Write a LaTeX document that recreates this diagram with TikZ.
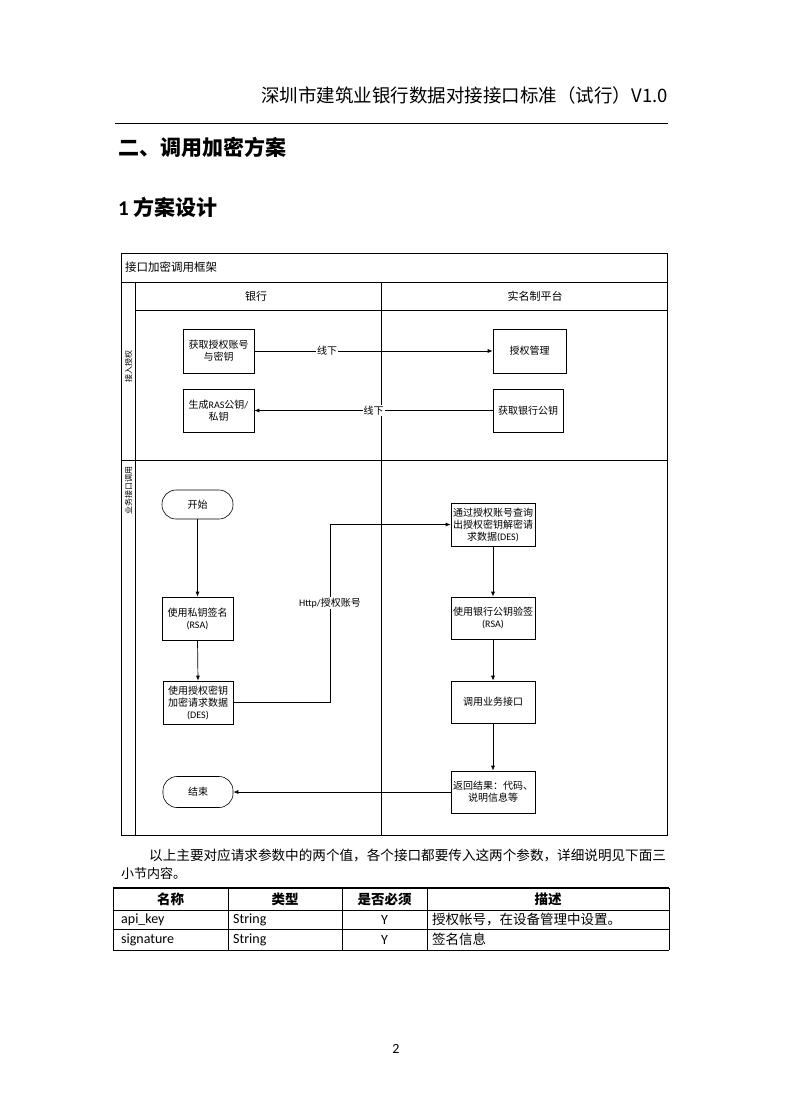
\documentclass[tikz,border=0pt]{standalone}
\usepackage{fontspec}
\setmainfont{Noto Sans CJK SC}
\newfontfamily\lat{Carlito}
\usetikzlibrary{arrows.meta}
\begin{document}
\begin{tikzpicture}[x=1pt,y=-1pt,
  fs/.style={font=\fontsize{#1pt}{\dimexpr #1pt*12/10\relax}\selectfont},
  box/.style={draw=black, line width=0.6pt, align=center, inner sep=0pt, fs=10},
  term/.style={box, rounded corners=14pt},
  arr/.style={-{Latex[length=5pt,width=4pt]}, line width=0.7pt},
  lbl/.style={fill=white, inner sep=1pt, fs=10},
  frame/.style={draw=black, line width=0.7pt},
  tline/.style={draw=black, line width=0.7pt},
  txt/.style={inner sep=0pt}
]
\useasboundingbox[fill=white] (0,0) rectangle (790,1119);

% page header
\node[txt, anchor=east, fs=18.5] (hdr) at (668,95) {深圳市建筑业银行数据对接接口标准（试行）V1.0};
\draw[line width=1.1pt] (115,123.5) -- (668,123.5);
\node[txt, anchor=west, fs=21] (h1) at (118,147) {\bfseries 二、调用加密方案};
\node[txt, anchor=west, fs=21] (h2) at (118,207) {\bfseries {\lat 1} 方案设计};

% frame
\draw[frame] (121.5,253) rectangle (667,835);
\draw[frame] (121.5,282) -- (667,282);
\draw[frame] (135.5,282) -- (135.5,835);
\draw[frame] (135.5,310) -- (667,310);
\draw[frame] (121.5,460) -- (667,460);
\draw[frame] (381,282) -- (381,835);
\node[txt, anchor=west, fs=11.5] (ttl) at (125,267.5) {接口加密调用框架};
\node[txt, fs=11] (bank) at (256,296) {银行};
\node[txt, fs=11] (plat) at (535,296) {实名制平台};
\node[txt, fs=8, rotate=90] (lane1) at (128.5,366) {接入授权};
\node[txt, fs=8, rotate=90] (lane2) at (128.5,490) {业务接口调用};

% lane 1
\node[box, minimum width=71, minimum height=44] (b1) at (218.5,351) {获取授权账号\\与密钥};
\node[box, minimum width=73, minimum height=44] (b2) at (529.5,351) {授权管理};
\node[box, minimum width=71, minimum height=43] (b3) at (218.5,410.5) {生成{\lat RAS}公钥{\lat /}\\私钥};
\node[box, minimum width=70, minimum height=43] (b4) at (528,410.5) {获取银行公钥};
\draw[arr] (b1.east) -- node[lbl, pos=0.305] {线下} (b2.west);
\draw[arr] (b4.west) -- node[lbl, pos=0.5] {线下} (b3.east);

% lane 2 left
\node[term, minimum width=71, minimum height=29] (start) at (197.5,504.5) {开始};
\node[box, minimum width=71, minimum height=43] (s1) at (197.5,618.5) {使用私钥签名\\{\lat (RSA)}};
\node[box, minimum width=70, minimum height=43] (s2) at (198,702.5) {使用授权密钥\\加密请求数据\\{\lat (DES)}};
\node[term, minimum width=70, minimum height=31] (stop) at (198,792) {结束};

% lane 2 right
\node[box, minimum width=84, minimum height=43] (r1) at (493,524.5) {通过授权账号查询\\出授权密钥解密请\\求数据{\lat (DES)}};
\node[box, minimum width=84, minimum height=42] (r2) at (493,618) {使用银行公钥验签\\{\lat (RSA)}};
\node[box, minimum width=84, minimum height=42] (r3) at (493,702) {调用业务接口};
\node[box, minimum width=84, minimum height=42] (r4) at (493,792) {返回结果：代码、\\说明信息等};

\coordinate (hx) at (330,0);
\draw[arr] (start.south) -- (s1.north);
\draw[arr] (s1.south) -- (s2.north);
\draw[arr] (s2.east) -- (s2.east -| hx) -- node[lbl, pos=0.56] {{\lat Http/}授权账号} (r1.west -| hx) -- (r1.west);
\draw[arr] (r1.south) -- (r2.north);
\draw[arr] (r2.south) -- (r3.north);
\draw[arr] (r3.south) -- (r4.north);
\draw[arr] (r4.west) -- (stop.east);

% paragraph
\node[txt, anchor=west, fs=13.6] (p1) at (149,855) {以上主要对应请求参数中的两个值，各个接口都要传入这两个参数，详细说明见下面三};
\node[txt, anchor=west, fs=13] (p2) at (121,873.5) {小节内容。};

% table
\draw[tline, line width=1.2pt] (113,888) -- (669,888);
\draw[tline] (113,910) -- (669,910);
\draw[tline] (113,929) -- (669,929);
\draw[tline, line width=1pt] (113,950) -- (669,950);
\foreach \cx in {113,228,342,427,669} \draw[tline] (\cx,888) -- (\cx,950);
\node[txt, fs=13.5] (th1) at (170.5,899) {\bfseries 名称};
\node[txt, fs=13.5] (th2) at (285,899) {\bfseries 类型};
\node[txt, fs=13.5] (th3) at (384.5,899) {\bfseries 是否必须};
\node[txt, fs=13.5] (th4) at (548,899) {\bfseries 描述};
\node[txt, anchor=west, fs=14] (c11) at (121,919.5) {\lat api\_key};
\node[txt, anchor=west, fs=14] (c12) at (233,919.5) {\lat String};
\node[txt, fs=14] (c13) at (384.5,919.5) {\lat Y};
\node[txt, anchor=west, fs=13.5] (c14) at (432,919.5) {授权帐号，在设备管理中设置。};
\node[txt, anchor=west, fs=14] (c21) at (121,939.5) {\lat signature};
\node[txt, anchor=west, fs=14] (c22) at (233,939.5) {\lat String};
\node[txt, fs=14] (c23) at (384.5,939.5) {\lat Y};
\node[txt, anchor=west, fs=13.5] (c24) at (432,939.5) {签名信息};

% page number
\node[txt, fs=14] (pg) at (396,1049) {\lat 2};
\end{tikzpicture}
\end{document}
